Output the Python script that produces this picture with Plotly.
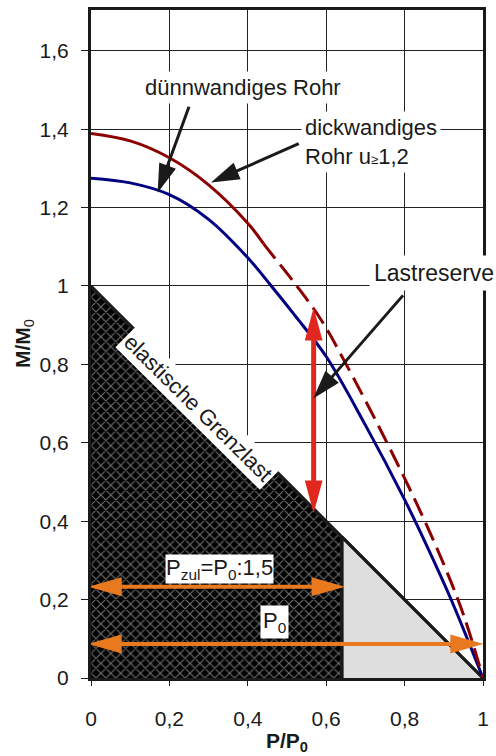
import math
import plotly.graph_objects as go

# ---------------- data ----------------
x_ticks = [0, 0.2, 0.4, 0.6, 0.8, 1.0]
x_tick_labels = ["0", "0,2", "0,4", "0,6", "0,8", "1"]
y_ticks = [0, 0.2, 0.4, 0.6, 0.8, 1.0, 1.2, 1.4, 1.6]
y_tick_labels = ["0", "0,2", "0,4", "0,6", "0,8", "1", "1,2", "1,4", "1,6"]

# thin-walled tube (blue)
thin_x = [0, 0.1, 0.2, 0.3, 0.4, 0.46, 0.52, 0.6, 0.7, 0.8, 0.86, 0.92, 0.96, 1.0]
thin_y = [1.275, 1.263, 1.233, 1.17, 1.072, 1.0, 0.925, 0.82, 0.645, 0.455, 0.33, 0.197, 0.1, 0.0]

# thick-walled tube u>=1,2 (dark red)
thick_x = [0, 0.1, 0.2, 0.3, 0.4, 0.454, 0.525, 0.588, 0.651, 0.74, 0.827, 0.9, 0.952, 1.0]
thick_y = [1.389, 1.37, 1.327, 1.258, 1.16, 1.09, 1.0, 0.912, 0.80, 0.63, 0.453, 0.29, 0.156, 0.0]
thick_dash_from = 0.44

# elastic limit region
hatch_x = [0, 0, 0.64, 0.64]
hatch_y = [0, 1, 0.36, 0]
gray_x = [0.64, 0.64, 1.0]
gray_y = [0, 0.36, 0]
elastic_x = [0, 1.0]
elastic_y = [1.0, 0]
pzul_x = [0.64, 0.64]
pzul_y = [0, 0.36]

# arrows: (x_tail, y_tail, x_tip, y_tip)
arrow_pzul = (-0.007, 0.233, 0.648, 0.233)
arrow_p0 = (-0.007, 0.087, 1.002, 0.087)
arrow_reserve = (0.568, 0.42, 0.568, 0.945)
pointer_thin = (0.250, 1.457, 0.170, 1.238)
pointer_thick = (0.530, 1.363, 0.306, 1.264)
pointer_reserve = (0.796, 0.976, 0.567, 0.713)

# ---------------- layout geometry ----------------
W, H = 496, 756
ML, MR, MT, MB = 91, 7, 9, 78
XR = (0.0, 1.0)
YR = (0.0, 1.704)
PW = W - ML - MR
PH = H - MT - MB

FONT = "Liberation Sans, Arial, sans-serif"
BLUE = "#000080"
DRED = "#8B0000"
ORANGE = "#E8791E"
RED = "#E0281F"
BLACK = "#1a1a1a"


def to_px(x, y):
    return (ML + (x - XR[0]) / (XR[1] - XR[0]) * PW,
            MT + (YR[1] - y) / (YR[1] - YR[0]) * PH)


def to_data(px, py):
    return (XR[0] + (px - ML) / PW * (XR[1] - XR[0]),
            YR[1] - (py - MT) / PH * (YR[1] - YR[0]))


shapes = []


def add_arrow(a, color, lw, hl, hw, both=False):
    x0, y0, x1, y1 = a
    p0 = to_px(x0, y0)
    p1 = to_px(x1, y1)
    dx, dy = p1[0] - p0[0], p1[1] - p0[1]
    d = math.hypot(dx, dy)
    ux, uy = dx / d, dy / d
    nx, ny = -uy, ux

    def head(tip, sx, sy):
        bx, by = tip[0] - sx * hl, tip[1] - sy * hl
        pts = [tip, (bx + nx * hw / 2, by + ny * hw / 2), (bx - nx * hw / 2, by - ny * hw / 2)]
        dp = [to_data(*p) for p in pts]
        path = "M{:.5f},{:.5f} L{:.5f},{:.5f} L{:.5f},{:.5f} Z".format(
            dp[0][0], dp[0][1], dp[1][0], dp[1][1], dp[2][0], dp[2][1])
        shapes.append(dict(type="path", xref="x", yref="y", path=path,
                           fillcolor=color, line=dict(width=0)))

    s = p0
    if both:
        s = (p0[0] + ux * hl * 0.8, p0[1] + uy * hl * 0.8)
    e = (p1[0] - ux * hl * 0.8, p1[1] - uy * hl * 0.8)
    ds, de = to_data(*s), to_data(*e)
    shapes.append(dict(type="line", xref="x", yref="y", x0=ds[0], y0=ds[1], x1=de[0], y1=de[1],
                       line=dict(color=color, width=lw)))
    head(p1, ux, uy)
    if both:
        head(p0, -ux, -uy)


fig = go.Figure()

# hatched elastic region
fig.add_trace(go.Scatter(x=hatch_x, y=hatch_y, mode="lines", fill="toself",
                         fillcolor="black",
                         fillpattern=dict(shape="x", bgcolor="black", fgcolor="#dcdcdc",
                                          size=7, solidity=0.3),
                         line=dict(color="black", width=1), hoverinfo="skip", showlegend=False))
# gray region
fig.add_trace(go.Scatter(x=gray_x, y=gray_y, mode="lines", fill="toself", fillcolor="#dedede",
                         line=dict(color=BLACK, width=3), hoverinfo="skip", showlegend=False))
# elastic limit line + P_zul boundary
fig.add_trace(go.Scatter(x=elastic_x, y=elastic_y, mode="lines",
                         line=dict(color=BLACK, width=3), hoverinfo="skip", showlegend=False))
fig.add_trace(go.Scatter(x=pzul_x, y=pzul_y, mode="lines",
                         line=dict(color=BLACK, width=3), hoverinfo="skip", showlegend=False))

# thin-walled curve
fig.add_trace(go.Scatter(x=thin_x, y=thin_y, mode="lines", line=dict(color=BLUE, width=3, shape="spline"),
                         hoverinfo="skip", showlegend=False))

# thick-walled curve: solid part and dashed part
i_split = next(i for i, v in enumerate(thick_x) if v >= thick_dash_from)
sx = thick_x[:i_split] + [thick_dash_from]
yy = thick_y[i_split - 1] + (thick_y[i_split] - thick_y[i_split - 1]) * (
    (thick_dash_from - thick_x[i_split - 1]) / (thick_x[i_split] - thick_x[i_split - 1]))
sy = thick_y[:i_split] + [yy]
fig.add_trace(go.Scatter(x=sx, y=sy, mode="lines", line=dict(color=DRED, width=3, shape="spline"),
                         hoverinfo="skip", showlegend=False))
fig.add_trace(go.Scatter(x=[thick_dash_from] + thick_x[i_split:], y=[yy] + thick_y[i_split:],
                         mode="lines", line=dict(color=DRED, width=3, shape="spline", dash="19px,8px"),
                         hoverinfo="skip", showlegend=False))

# arrows
add_arrow(arrow_pzul, ORANGE, 4, 34, 19, both=True)
add_arrow(arrow_p0, ORANGE, 4, 34, 19, both=True)
add_arrow(arrow_reserve, RED, 5, 33, 18, both=True)
add_arrow(pointer_thin, BLACK, 3, 29, 18)
add_arrow(pointer_thick, BLACK, 3, 29, 18)
add_arrow(pointer_reserve, BLACK, 3, 29, 18)

annotations = [
    dict(x=0.387, y=1.506, text="dünnwandiges Rohr", showarrow=False, xanchor="center", yanchor="middle",
         bgcolor="white", borderpad=3, font=dict(size=22, color=BLACK, family=FONT)),
    dict(x=0.535, y=1.368, text="dickwandiges<br>Rohr u<span style=\"font-size:13px\">≥</span>1,2",
         showarrow=False, xanchor="left", yanchor="middle", align="left",
         bgcolor="white", borderpad=3, font=dict(size=22, color=BLACK, family=FONT)),
    dict(x=0.708, y=1.034, text="Lastreserve", showarrow=False, xanchor="left", yanchor="middle",
         bgcolor="white", borderpad=4, font=dict(size=23, color=BLACK, family=FONT)),
    dict(x=0.272, y=0.689, text="elastische Grenzlast", showarrow=False, textangle=44.6,
         xanchor="center", yanchor="middle", bgcolor="white", borderpad=2,
         font=dict(size=22, color=BLACK, family=FONT)),
    dict(x=0.328, y=0.278, text="P<sub>zul</sub>=P<sub>0</sub>:1,5", showarrow=False,
         xanchor="center", yanchor="middle", bgcolor="white", borderpad=0,
         font=dict(size=22, color=BLACK, family=FONT)),
    dict(x=0.469, y=0.143, text="P<sub>0</sub>", showarrow=False,
         xanchor="center", yanchor="middle", bgcolor="white", borderpad=2,
         font=dict(size=22, color=BLACK, family=FONT)),
    dict(xref="paper", yref="paper", x=0, y=0.5, xshift=-67, text="<b>M/M</b><sub>0</sub>",
         showarrow=False, textangle=-90, xanchor="center", yanchor="middle",
         font=dict(size=21, color=BLACK, family=FONT)),
    dict(xref="paper", yref="paper", x=0.5, y=0, yshift=-64, text="<b>P/P<sub>0</sub></b>",
         showarrow=False, xanchor="center", yanchor="middle",
         font=dict(size=21, color=BLACK, family=FONT)),
]

fig.update_layout(
    width=W, height=H, autosize=False,
    margin=dict(l=ML, r=MR, t=MT, b=MB, pad=0),
    paper_bgcolor="white", plot_bgcolor="white",
    shapes=shapes, annotations=annotations, showlegend=False,
    xaxis=dict(range=list(XR), tickvals=x_ticks, ticktext=x_tick_labels,
               showgrid=True, gridcolor="#222222", gridwidth=1,
               showline=True, linecolor=BLACK, linewidth=3, mirror=True,
               ticks="outside", ticklen=5, tickcolor=BLACK, tickwidth=1,
               ticklabelstandoff=15, zeroline=False,
               tickfont=dict(size=21, color=BLACK, family=FONT), fixedrange=True),
    yaxis=dict(range=list(YR), tickvals=y_ticks, ticktext=y_tick_labels,
               showgrid=True, gridcolor="#222222", gridwidth=1,
               showline=True, linecolor=BLACK, linewidth=3, mirror=True,
               ticks="outside", ticklen=7, tickcolor=BLACK, tickwidth=1,
               ticklabelstandoff=8, zeroline=False,
               tickfont=dict(size=21, color=BLACK, family=FONT), fixedrange=True),
)

fig.write_html("out.html")
